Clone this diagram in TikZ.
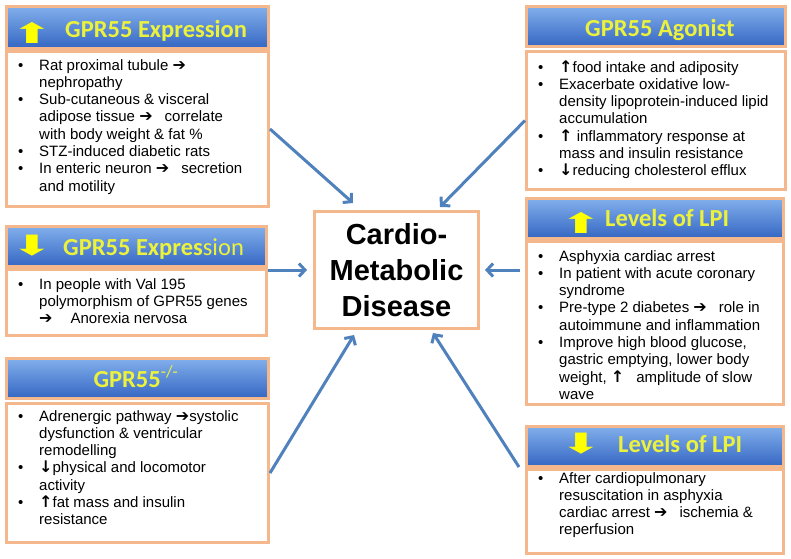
\documentclass[tikz,border=0pt]{standalone}
\usepackage{fontspec}
\usepackage{graphicx}
\setmainfont{Liberation Sans}
\newfontfamily\hdrfont{Carlito}
\newfontfamily\symfont{DejaVu Sans}
\usetikzlibrary{arrows.meta}
\definecolor{peach}{RGB}{244,184,140}
\definecolor{hdrtop}{RGB}{130,175,236}
\definecolor{hdrbot}{RGB}{52,102,194}
\definecolor{hdrtxt}{RGB}{236,242,60}
\definecolor{arrowblue}{RGB}{79,129,189}
\definecolor{iconyellow}{RGB}{255,255,0}
\newcommand\itm[1]{\par\noindent\hangindent=21pt\hangafter=1\makebox[21pt][l]{\textbullet}#1}
\newcommand\ra{{\symfont\bfseries\fontsize{16}{16}\selectfont ➔}}
\newcommand\ua{{\symfont\bfseries\fontsize{16}{16}\selectfont ↑}}
\newcommand\da{{\symfont\bfseries\fontsize{16}{16}\selectfont ↓}}
\newcommand\bodytxt[2]{\parbox[t]{#1}{\fontsize{15}{17.3}\selectfont\raggedright #2}}
\newcommand\wideicon[1]{\scalebox{1.8}[1]{#1}}
\tikzset{
  hdr/.style={draw=peach, line width=3pt, top color=hdrtop, bottom color=hdrbot, anchor=north west, inner sep=0},
  bodybox/.style={draw=peach, line width=3pt, fill=white, anchor=north west, inner sep=0},
  hdrtext/.style={anchor=base west, inner sep=0, text=hdrtxt, font=\hdrfont\bfseries\fontsize{24.5}{24.5}\selectfont},
  icon/.style={inner sep=0, text=iconyellow, font=\symfont\fontsize{28}{28}\selectfont},
  btext/.style={anchor=base west, inner sep=0},
  conn/.style={draw=arrowblue, line width=3pt, -{Straight Barb[length=6pt,width=13pt]}}
}
\begin{document}
\begin{tikzpicture}[x=1pt,y=-1pt]
\useasboundingbox (0,0) rectangle (791,558);
\fill[white] (0,0) rectangle (791,558);
% left column
\node[hdr, minimum width=262pt, minimum height=42pt] (h1) at (5,5) {};
\node[bodybox, minimum width=262pt, minimum height=155pt] (b1) at (5,50) {};
\node[hdr, minimum width=260pt, minimum height=40pt] (h2) at (5,225) {};
\node[bodybox, minimum width=260pt, minimum height=66pt] (b2) at (5,268) {};
\node[hdr, minimum width=262pt, minimum height=40pt] (h3) at (5,357) {};
\node[bodybox, minimum width=262pt, minimum height=139pt] (b3) at (5,402) {};
% right column
\node[hdr, minimum width=259pt, minimum height=40pt] (h4) at (525,5) {};
\node[bodybox, minimum width=259pt, minimum height=138pt] (b4) at (525,50) {};
\node[hdr, minimum width=257pt, minimum height=40pt] (h5) at (525,197) {};
\node[bodybox, minimum width=257pt, minimum height=163pt] (b5) at (525,240) {};
\node[hdr, minimum width=257pt, minimum height=40pt] (h6) at (525,425) {};
\node[bodybox, minimum width=257pt, minimum height=84pt] (b6) at (525,468) {};
% centre
\node[bodybox, minimum width=164pt, minimum height=117pt] (cbox) at (313,210) {};
\node[inner sep=0, align=center, font=\bfseries\fontsize{29}{36}\selectfont] (ctext) at (cbox.center) {Cardio-\\Metabolic\\Disease};
% header texts
\node[icon] (i1) at (32,32.5) {\wideicon{⬆}};
\node[hdrtext] (ht1) at (65,37) {GPR55 Expression};
\node[icon] (i2) at (32,246) {\wideicon{⬇}};
\node[hdrtext] (ht2) at (63,255) {GPR55 Expres{\mdseries sion}};
\node[hdrtext, anchor=base] (ht3) at (136,387) {GPR55\textsuperscript{\mdseries -/-}};
\node[hdrtext] (ht4) at (585,36) {GPR55 Agonist};
\node[icon] (i5) at (581,222.5) {\wideicon{⬆}};
\node[hdrtext] (ht5) at (605,226) {Levels of LPI};
\node[icon] (i6) at (581,444) {\wideicon{⬇}};
\node[hdrtext] (ht6) at (618,452) {Levels of LPI};
% body texts
\node[btext] (t1) at (18,70) {\bodytxt{245pt}{%
\itm{Rat proximal tubule \ra\newline nephropathy}
\itm{Sub-cutaneous \& visceral\newline adipose tissue \ra\hspace{12pt}correlate\newline with body weight \& fat \%}
\itm{STZ-induced diabetic rats}
\itm{In enteric neuron \ra\hspace{12pt}secretion\newline and motility}}};
\node[btext] (t2) at (18,289) {\bodytxt{245pt}{%
\itm{In people with Val 195\newline polymorphism of GPR55 genes\newline \ra\hspace{18pt}Anorexia nervosa}}};
\node[btext] (t3) at (18,421) {\bodytxt{245pt}{%
\itm{Adrenergic pathway \ra systolic\newline dysfunction \& ventricular\newline remodelling}
\itm{\da physical and locomotor\newline activity}
\itm{\ua fat mass and insulin\newline resistance}}};
\node[btext] (t4) at (538,72) {\bodytxt{245pt}{%
\itm{\ua food intake and adiposity}
\itm{Exacerbate oxidative low-\newline density lipoprotein-induced lipid\newline accumulation}
\itm{\ua\ inflammatory response at\newline mass and insulin resistance}
\itm{\da reducing cholesterol efflux}}};
\node[btext] (t5) at (538,261) {\bodytxt{245pt}{%
\itm{Asphyxia cardiac arrest}
\itm{In patient with acute coronary\newline syndrome}
\itm{Pre-type 2 diabetes \ra\hspace{12pt}role in\newline autoimmune and inflammation}
\itm{Improve high blood glucose,\newline gastric emptying, lower body\newline weight, \ua\hspace{12pt}amplitude of slow\newline wave}}};
\node[btext] (t6) at (538,483) {\bodytxt{245pt}{%
\itm{After cardiopulmonary\newline resuscitation in asphyxia\newline cardiac arrest \ra\hspace{12pt}ischemia \&\newline reperfusion}}};
% connectors
\coordinate (e1) at (353,203);
\coordinate (e2) at (440,207);
\coordinate (e3) at (354,335);
\coordinate (s4) at (519,467);
\coordinate (e4) at (433,333);
\coordinate (s5) at (268,270);
\coordinate (e5) at (307,270);
\coordinate (s6) at (520,270);
\coordinate (e6) at (485,270);
\draw[conn] (b1.east) -- (e1);
\draw[conn] (b4.west) -- (e2);
\draw[conn] (b3.east) -- (e3);
\draw[conn] (s4) -- (e4);
\draw[conn] (s5) -- (e5);
\draw[conn] (s6) -- (e6);
\end{tikzpicture}
\end{document}
